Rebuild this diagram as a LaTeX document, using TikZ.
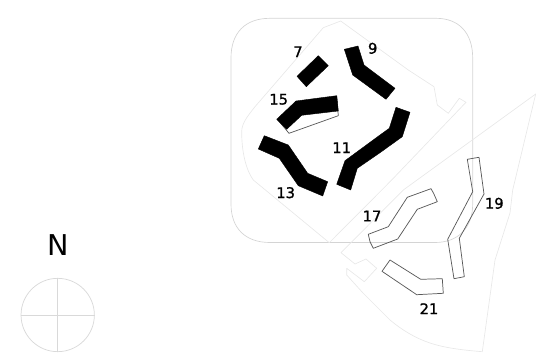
\documentclass[tikz,border=0pt]{standalone}
\usepackage{fontspec}
\setmainfont{DejaVu Sans}
\newfontfamily\labfont[FakeBold=1.2]{DejaVu Sans}
\tikzset{
  thinline/.style={draw=black!9,line width=0.5pt,line join=round},
  heavy/.style={fill=black,draw=black,line width=0.3pt,line join=round},
  outlined/.style={draw=black!65,line width=0.55pt,fill=none,line join=round},
  lab/.style={font=\labfont\fontsize{11pt}{12pt}\selectfont,text=black,inner sep=0pt,anchor=center},
  compass/.style={draw=black!15,line width=0.55pt}
}
\begin{document}
\begin{tikzpicture}[x=0.75pt,y=-0.75pt]
\useasboundingbox (0,0) rectangle (540,360);
% drawing frame
\draw[thinline,draw=black!17] (231,58) .. controls (231,33) and (245,18.3) .. (270,18.3) -- (436,18.3) .. controls (459,18.3) and (472.7,33) .. (472.7,58) -- (472.7,204) .. controls (472.7,228) and (458,242.5) .. (435,242.5) -- (270,242.5) .. controls (245,242.5) and (231,228) .. (231,204) -- cycle;
% inner site line
\draw[thinline] (340.7,21) -- (323.3,27.7) -- (255,106.7) .. controls (246,118) and (241.7,124) .. (241.7,132) .. controls (241.7,152) and (246,170) .. (253.3,180) -- (329.3,242.7) -- (391.7,180) -- (466,102.3) -- (459.3,98.3) -- (448.3,113.3) -- (437.3,105) -- (434,86.7) -- (408.3,70) -- cycle;
% outer site line
\draw[thinline] (535.7,94) -- (512.7,190) -- (510,213) -- (495,260) -- (482.3,351.7) .. controls (462,350) and (445,348) .. (430,343) .. controls (415,338) and (402,330) .. (390,320) -- (363,293) -- (346.7,275) -- (346.7,268.3) -- (364.3,281.7) -- (376.7,268.3) -- (366,259) -- (355,264) -- (341,252.7) -- (403.3,190) -- cycle;
% black buildings
\fill[heavy] (318.3,55.7) -- (328.3,65.7) -- (306.3,86.7) -- (297,76.3) -- cycle;
\fill[heavy] (344.3,49.3) -- (358,46) -- (364,65) -- (395,88.3) -- (386,99.3) -- (352.7,75) -- cycle;
\draw[outlined] (336.7,95.7) -- (338.3,115.7) -- (289,133.3) -- (278,120);
\fill[heavy] (276.7,119.3) -- (296,101) -- (336.7,95.7) -- (338.3,111) -- (301.7,115.3) -- (286.7,129.3) -- cycle;
\fill[heavy] (264.3,135.7) -- (288.3,145) -- (307.7,173.3) -- (327.7,181.7) -- (322.7,196) -- (298.3,185.7) -- (279.3,158.3) -- (258.3,149) -- cycle;
\fill[heavy] (336.7,184.3) -- (345,160.7) -- (380,135) -- (389.3,128.3) -- (396,107.3) -- (410,112.3) -- (402.3,136.7) -- (380,152.7) -- (357.3,168.3) -- (350.7,190) -- cycle;
% outlined buildings
\draw[outlined] (368.3,234.3) -- (388.3,226.7) -- (407.3,197.3) -- (431,188.7) -- (433.6,193.3) -- (437.3,201.7) -- (417.3,209.3) -- (397.7,239) -- (373.3,248.3) -- (370,241.7) -- cycle;
\draw[outlined] (467.3,159.3) -- (479,157.3) -- (484,194) -- (459.3,238.3) -- (464.3,276.7) -- (454,278.7) -- (447.7,239.3) -- (472.7,191.7) -- cycle;
\draw[outlined] (390,260) -- (420.7,279.3) -- (442.3,278.7) -- (443.3,293.3) -- (416.7,294.7) -- (382,271.3) -- cycle;
% labels
\node[lab] (n7) at (298,51.7) {7};
\node[lab] (n9) at (372.7,48.3) {9};
\node[lab] (n15) at (278.7,99.3) {15};
\node[lab] (n11) at (341.7,147.7) {11};
\node[lab] (n13) at (285.7,192.7) {13};
\node[lab] (n17) at (372,216) {17};
\node[lab] (n19) at (494.3,203.3) {19};
\node[lab] (n21) at (429,308.7) {21};
% north sign
\node[inner sep=0pt,font=\fontsize{21.5pt}{24pt}\selectfont] (north) at (58,245) {N};
\node[circle,compass,minimum size=55pt,inner sep=0pt] (rose) at (57.7,315) {};
\draw[compass] (rose.west) -- (rose.east);
\draw[compass,line width=0.9pt] (rose.north) -- (rose.south);
\end{tikzpicture}
\end{document}
